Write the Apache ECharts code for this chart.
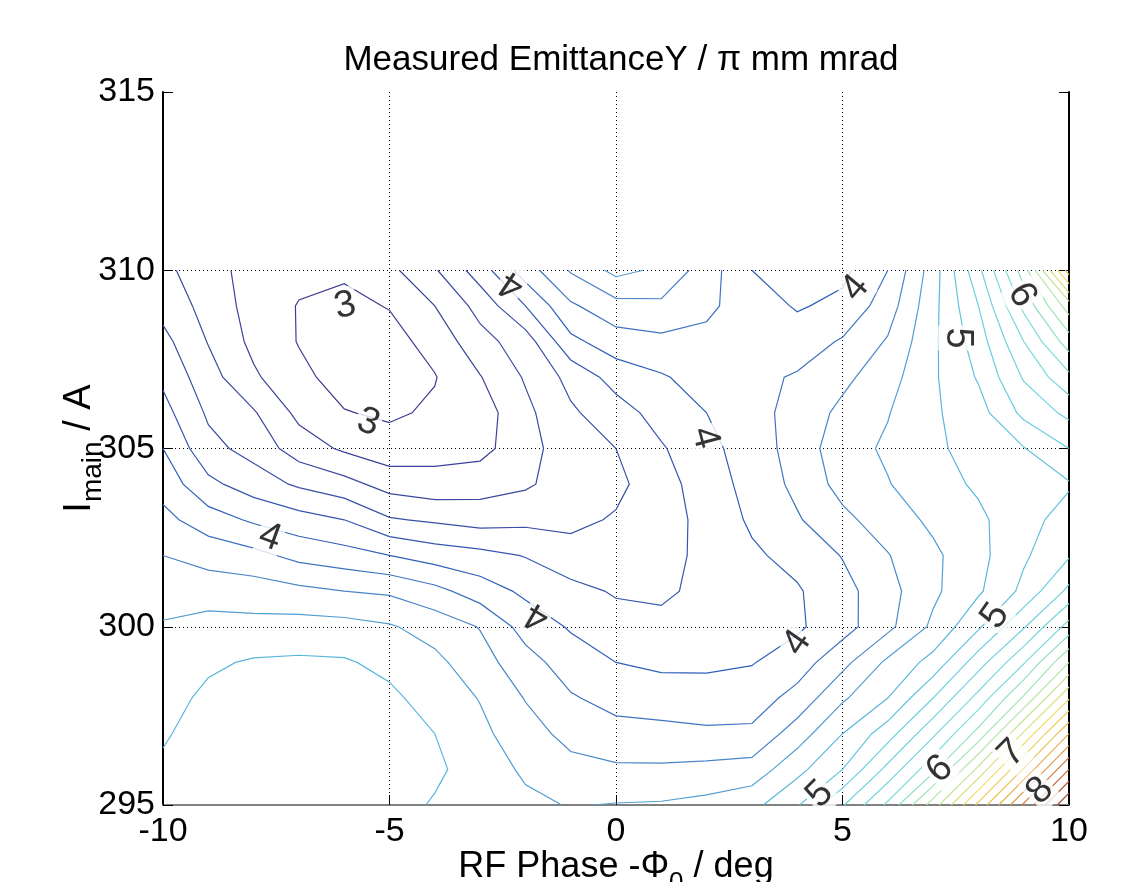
<!DOCTYPE html>
<html>
<head>
<meta charset="utf-8">
<title>Measured EmittanceY</title>
<script src="https://cdn.jsdelivr.net/npm/echarts@6/dist/echarts.min.js"></script>
<style>
  html, body { margin: 0; padding: 0; background: #fff; }
  #main { width: 1145px; height: 882px; }
</style>
</head>
<body>
<div id="main"></div>
<script>
// RF phase (deg) and main current (A) of the measurement grid
var phase = [-10, -9, -8, -7, -6, -5, -4, -3, -2, -1, 0, 1, 2, 3, 4, 5, 6, 7, 8, 9, 10]
var current = [295, 296, 297, 298, 299, 300, 301, 302, 303, 304, 305, 306, 307, 308, 309, 310]

// emittance (pi mm mrad), one row per current value, one column per phase
var emittance = [
  [4.86, 4.90, 4.93, 4.95, 4.92, 4.88, 4.78, 4.72, 4.64, 4.59, 4.61, 4.62, 4.66, 4.74, 4.98, 5.38, 5.84, 6.50, 7.25, 8.03, 8.80],
  [4.83, 4.90, 4.93, 4.95, 4.93, 4.88, 4.84, 4.70, 4.57, 4.46, 4.43, 4.43, 4.45, 4.48, 4.74, 5.00, 5.46, 5.94, 6.65, 7.42, 8.20],
  [4.78, 4.88, 4.92, 4.93, 4.93, 4.87, 4.80, 4.65, 4.48, 4.34, 4.27, 4.26, 4.24, 4.24, 4.50, 4.80, 5.11, 5.56, 6.07, 6.83, 7.60],
  [4.73, 4.84, 4.88, 4.90, 4.90, 4.84, 4.72, 4.59, 4.39, 4.22, 4.13, 4.10, 4.07, 4.10, 4.27, 4.57, 4.80, 5.20, 5.67, 6.23, 6.98],
  [4.68, 4.77, 4.82, 4.83, 4.82, 4.75, 4.65, 4.48, 4.28, 4.10, 4.00, 3.96, 3.97, 3.99, 4.10, 4.34, 4.64, 4.87, 5.31, 5.78, 6.40],
  [4.62, 4.68, 4.66, 4.68, 4.67, 4.62, 4.52, 4.39, 4.12, 3.98, 3.88, 3.86, 3.91, 3.94, 3.97, 4.12, 4.35, 4.64, 4.97, 5.38, 5.88],
  [4.51, 4.50, 4.50, 4.45, 4.40, 4.37, 4.26, 4.10, 3.96, 3.86, 3.78, 3.76, 3.86, 3.94, 3.98, 4.13, 4.33, 4.56, 4.77, 5.05, 5.45],
  [4.40, 4.33, 4.26, 4.14, 4.08, 4.00, 3.91, 3.86, 3.79, 3.68, 3.70, 3.72, 3.86, 3.97, 4.06, 4.21, 4.39, 4.56, 4.74, 4.97, 5.18],
  [4.26, 4.09, 3.97, 3.88, 3.80, 3.62, 3.57, 3.52, 3.55, 3.55, 3.62, 3.70, 3.87, 4.03, 4.18, 4.35, 4.50, 4.64, 4.76, 4.93, 5.08],
  [4.12, 3.85, 3.70, 3.57, 3.47, 3.32, 3.27, 3.31, 3.37, 3.50, 3.55, 3.72, 3.90, 4.07, 4.25, 4.47, 4.59, 4.72, 4.83, 4.93, 4.98],
  [4.00, 3.66, 3.53, 3.30, 3.17, 3.08, 3.13, 3.14, 3.32, 3.52, 3.60, 3.78, 3.94, 4.10, 4.28, 4.52, 4.63, 4.76, 4.88, 4.99, 5.20],
  [3.87, 3.57, 3.42, 3.15, 3.01, 2.97, 3.03, 3.10, 3.35, 3.57, 3.71, 3.88, 4.00, 4.13, 4.27, 4.45, 4.59, 4.77, 4.92, 5.25, 5.45],
  [3.76, 3.48, 3.23, 3.05, 2.92, 2.92, 2.99, 3.19, 3.42, 3.66, 3.88, 3.98, 4.08, 4.15, 4.22, 4.35, 4.52, 4.77, 5.02, 5.42, 5.75],
  [3.66, 3.39, 3.15, 2.99, 2.90, 2.93, 3.07, 3.33, 3.50, 3.95, 4.11, 4.15, 4.15, 4.14, 4.10, 4.22, 4.42, 4.76, 5.10, 5.60, 6.10],
  [3.53, 3.33, 3.12, 2.99, 2.95, 3.01, 3.20, 3.47, 3.80, 4.17, 4.33, 4.36, 4.24, 4.10, 3.98, 4.05, 4.30, 4.74, 5.20, 5.85, 6.50],
  [3.45, 3.28, 3.12, 3.05, 3.03, 3.15, 3.38, 3.70, 4.10, 4.42, 4.66, 4.56, 4.30, 4.00, 3.90, 3.95, 4.20, 4.70, 5.35, 6.10, 7.30]
]

// contour levels
var levels = [3.0, 3.2, 3.4, 3.6, 3.8, 4.0, 4.2, 4.4, 4.6, 4.8, 5.0, 5.2, 5.4, 5.6, 5.8,
  6.0, 6.2, 6.4, 6.6, 6.8, 7.0, 7.2, 7.4, 7.6, 7.8, 8.0, 8.2, 8.4, 8.6, 8.8]

// inline contour labels: text, phase, current, angle
var labelText = ['3', '3', '4', '4', '4', '4', '4', '4', '5', '5', '5', '6', '6', '7', '8']
var labelPhase = [-5.98, -5.47, -7.64, -2.3, -1.74, 1.96, 4.0, 5.28, 7.53, 8.37, 4.5, 8.96, 7.15, 8.74, 9.36]
var labelCurrent = [309.0, 305.73, 302.5, 309.6, 300.3, 305.3, 299.55, 309.5, 308.1, 300.3, 295.3, 309.3, 296.0, 296.45, 295.4]
var labelAngle = [13, -20, -20, 146, 150, -75, 55, 50, -90, 55, 45, -60, 40, 45, 45]

var FONT = '"Liberation Sans", Arial, Helvetica, sans-serif'

// line colours along the level range
var colorStops = [
  [3.0, '#3d3d8f'], [3.6, '#3a4fa6'], [4.0, '#2f60b8'], [4.4, '#4a86c8'],
  [4.8, '#5ab6dc'], [5.2, '#66cfe0'], [5.8, '#7cdcd6'], [6.4, '#b4e6a8'],
  [7.0, '#eee070'], [7.6, '#e8b050'], [8.2, '#c86a40'], [8.8, '#9a3a30']
]

function hex(c) {
  return [parseInt(c.substr(1, 2), 16), parseInt(c.substr(3, 2), 16), parseInt(c.substr(5, 2), 16)]
}

function levelColor(v) {
  for (var k = 1; k < colorStops.length; k++) {
    if (v <= colorStops[k][0] + 1e-9) {
      var a = colorStops[k - 1], b = colorStops[k]
      var t = (v - a[0]) / (b[0] - a[0])
      var ca = hex(a[1]), cb = hex(b[1])
      return 'rgb(' + [0, 1, 2].map(function (n) { return Math.round(ca[n] + t * (cb[n] - ca[n])) }).join(',') + ')'
    }
  }
  return colorStops[colorStops.length - 1][1]
}

// marching squares on the grid, returns polylines in data coordinates
function traceLevel(level) {
  var nx = phase.length, ny = current.length
  var pts = {}, links = {}, seen = {}

  function link(a, b) {
    (links[a] = links[a] || []).push(b);
    (links[b] = links[b] || []).push(a)
  }

  for (var j = 0; j < ny - 1; j++) {
    for (var i = 0; i < nx - 1; i++) {
      var bl = emittance[j][i], br = emittance[j][i + 1]
      var tr = emittance[j + 1][i + 1], tl = emittance[j + 1][i]
      var code = (bl > level ? 1 : 0) | (br > level ? 2 : 0) | (tr > level ? 4 : 0) | (tl > level ? 8 : 0)
      if (code === 0 || code === 15) continue
      var x0 = phase[i], x1 = phase[i + 1], y0 = current[j], y1 = current[j + 1]

      var edge = function (name) {
        var key, xa, ya, va, xb, yb, vb
        if (name === 'B') { key = 'h' + i + '_' + j; xa = x0; ya = y0; va = bl; xb = x1; yb = y0; vb = br }
        if (name === 'T') { key = 'h' + i + '_' + (j + 1); xa = x0; ya = y1; va = tl; xb = x1; yb = y1; vb = tr }
        if (name === 'L') { key = 'v' + i + '_' + j; xa = x0; ya = y0; va = bl; xb = x0; yb = y1; vb = tl }
        if (name === 'R') { key = 'v' + (i + 1) + '_' + j; xa = x1; ya = y0; va = br; xb = x1; yb = y1; vb = tr }
        if (!pts[key]) {
          var t = (level - va) / (vb - va)
          pts[key] = [xa + t * (xb - xa), ya + t * (yb - ya)]
        }
        return key
      }

      var center = (bl + br + tr + tl) / 4 > level
      var pairs
      switch (code) {
        case 1: case 14: pairs = [['L', 'B']]; break
        case 2: case 13: pairs = [['B', 'R']]; break
        case 3: case 12: pairs = [['L', 'R']]; break
        case 4: case 11: pairs = [['R', 'T']]; break
        case 6: case 9: pairs = [['B', 'T']]; break
        case 7: case 8: pairs = [['L', 'T']]; break
        case 5: pairs = center ? [['B', 'R'], ['L', 'T']] : [['L', 'B'], ['R', 'T']]; break
        case 10: pairs = center ? [['L', 'B'], ['R', 'T']] : [['B', 'R'], ['L', 'T']]; break
      }
      pairs.forEach(function (p) { link(edge(p[0]), edge(p[1])) })
    }
  }

  function walk(start) {
    var path = [start], cur = start
    seen[start] = true
    for (;;) {
      var nbs = links[cur], next = null
      for (var n = 0; n < nbs.length; n++) {
        if (!seen[nbs[n]]) { next = nbs[n]; break }
      }
      if (next === null) {
        if (path.length > 2 && nbs.indexOf(start) >= 0) path.push(start)
        break
      }
      seen[next] = true
      path.push(next)
      cur = next
    }
    return path.map(function (k) { return pts[k] })
  }

  var out = []
  Object.keys(links).forEach(function (k) {
    if (!seen[k] && links[k].length === 1) out.push(walk(k))
  })
  Object.keys(links).forEach(function (k) {
    if (!seen[k]) out.push(walk(k))
  })
  return out
}

var contourData = []
levels.forEach(function (lv) {
  traceLevel(lv).forEach(function (path) {
    contourData.push({ coords: path, lineStyle: { color: levelColor(lv) } })
  })
})

var labelData = labelText.map(function (t, k) {
  return {
    value: [labelPhase[k], labelCurrent[k]],
    label: { formatter: t, rotate: labelAngle[k] }
  }
})

var chart = echarts.init(document.getElementById('main'))

var xRich = {
  n: { fontFamily: FONT, fontSize: 36, color: '#000', lineHeight: 40 },
  s: { fontFamily: FONT, fontSize: 26, color: '#000', lineHeight: 26, padding: [32, 0, 0, 0] }
}
var yRich = {
  n: { fontFamily: FONT, fontSize: 38, color: '#000', lineHeight: 42 },
  s: { fontFamily: FONT, fontSize: 28, color: '#000', lineHeight: 28, padding: [26, 0, 0, 0] }
}

var option = {
  backgroundColor: '#fff',
  animation: false,
  title: {
    text: 'Measured EmittanceY / \u03c0 mm mrad',
    left: 616,
    textAlign: 'center',
    top: 38,
    textStyle: { fontFamily: FONT, fontSize: 35, fontWeight: 'normal', color: '#000' }
  },
  grid: { left: 163, right: 76, top: 92, bottom: 77, containLabel: false, outerBoundsMode: 'none' },
  xAxis: [{
    type: 'value',
    min: -10,
    max: 10,
    interval: 5,
    position: 'bottom',
    name: '{n|RF Phase -\u03a6}{s|0}{n| / deg}',
    nameLocation: 'middle',
    nameGap: 42,
    nameMoveOverlap: false,
    nameTextStyle: { color: '#000', rich: xRich },
    axisLine: { show: true, onZero: false, lineStyle: { color: '#808080', width: 2 } },
    axisTick: { show: true, inside: true, length: 10, lineStyle: { color: '#000', width: 1 } },
    axisLabel: { fontFamily: FONT, fontSize: 34, color: '#000', margin: 10 },
    splitLine: { show: true, showMinLine: false, showMaxLine: false, lineStyle: { color: '#000', width: 1, type: [1, 3] } }
  }],
  yAxis: [{
    type: 'value',
    min: 295,
    max: 315,
    interval: 5,
    position: 'left',
    name: '{n|I}{s|main}{n| / A}',
    nameLocation: 'middle',
    nameGap: 62,
    nameMoveOverlap: false,
    nameTextStyle: { color: '#000', rich: yRich },
    axisLine: { show: true, onZero: false, lineStyle: { color: '#000', width: 2 } },
    axisTick: { show: true, inside: true, length: 10, lineStyle: { color: '#000', width: 1 } },
    axisLabel: { fontFamily: FONT, fontSize: 34, color: '#000', margin: 8 },
    splitLine: { show: true, showMinLine: false, showMaxLine: false, lineStyle: { color: '#000', width: 1, type: [1, 3] } }
  }, {
    type: 'value',
    min: 295,
    max: 315,
    interval: 5,
    position: 'right',
    axisLine: { show: true, onZero: false, lineStyle: { color: '#000', width: 2 } },
    axisTick: { show: true, inside: true, length: 10, lineStyle: { color: '#000' } },
    axisLabel: { show: false },
    splitLine: { show: false }
  }],
  series: [
    {
      type: 'lines',
      coordinateSystem: 'cartesian2d',
      polyline: true,
      silent: true,
      z: 2,
      lineStyle: { width: 1.2, opacity: 1 },
      data: contourData
    },
    {
      type: 'scatter',
      silent: true,
      z: 3,
      symbolSize: 1,
      itemStyle: { color: 'rgba(0,0,0,0)' },
      label: {
        show: true,
        position: 'inside',
        fontFamily: FONT,
        fontSize: 38,
        color: '#000',
        backgroundColor: '#fff',
        padding: [0, 2]
      },
      data: labelData
    }
  ]
}

chart.setOption(option)
</script>
</body>
</html>
